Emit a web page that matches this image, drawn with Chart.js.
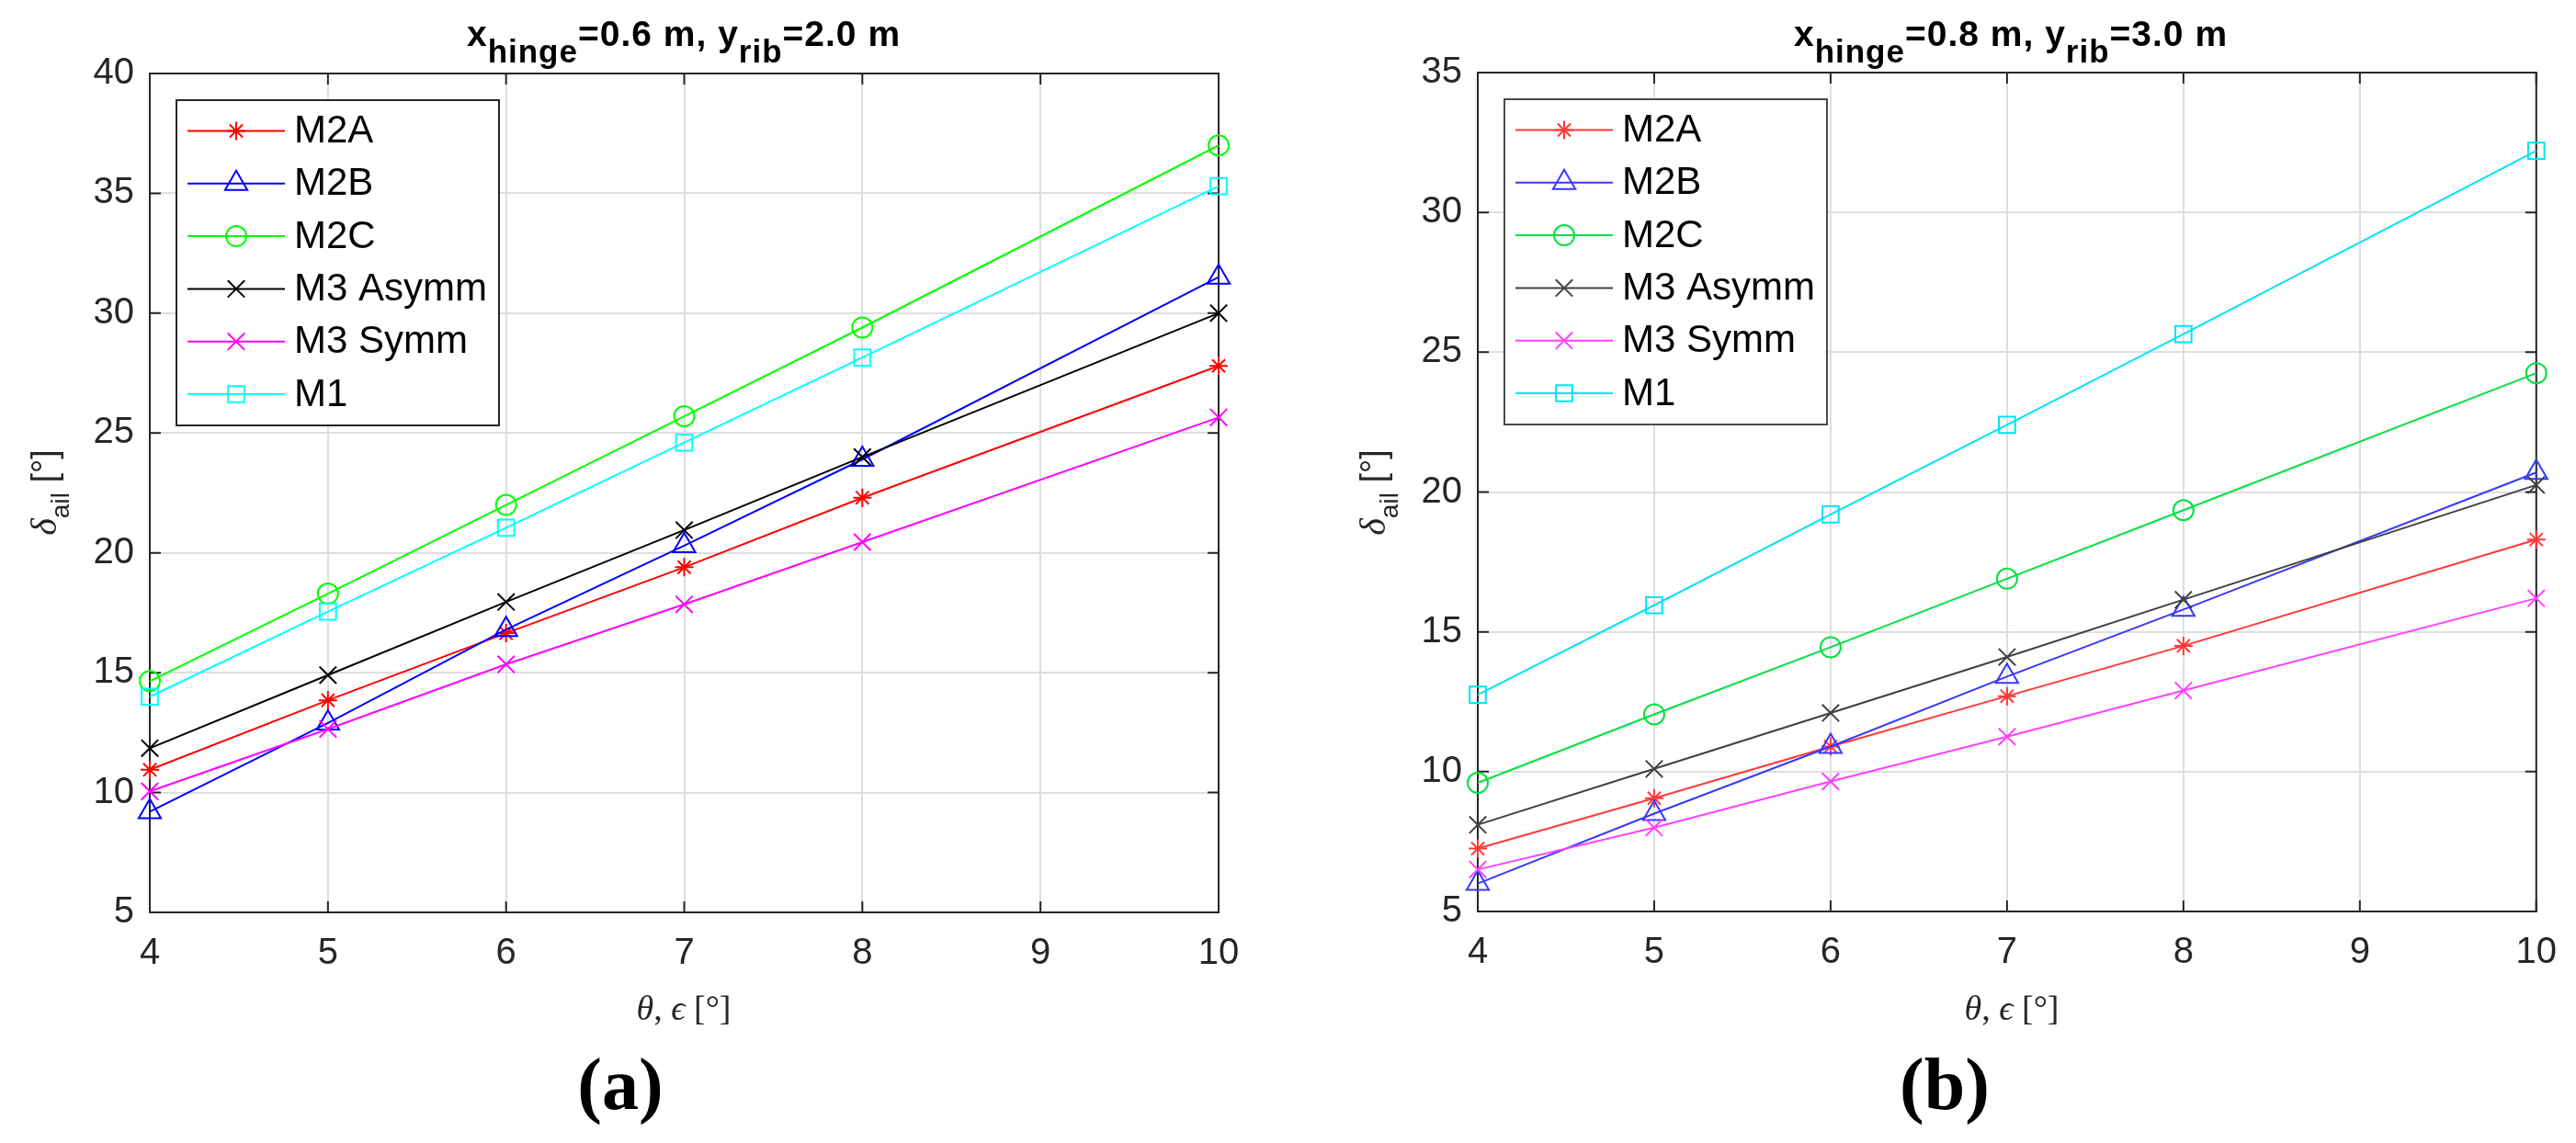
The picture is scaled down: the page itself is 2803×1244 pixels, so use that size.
<!DOCTYPE html>
<html>
<head>
<meta charset="utf-8">
<script src="https://cdn.jsdelivr.net/npm/chart.js@4.4.1/dist/chart.umd.min.js"></script>
<style>
html, body { margin: 0; padding: 0; background: #ffffff; }
#wrap { position: relative; width: 2803px; height: 1244px; overflow: hidden; background: #ffffff; }
canvas { position: absolute; top: 0; }
#chartA { left: 0; width: 1400px; height: 1244px; }
#chartB { left: 1400px; width: 1403px; height: 1244px; }
#labels { position: absolute; left: 0; top: 0; pointer-events: none; }
</style>
</head>
<body>
<div id="wrap">
  <canvas id="chartA" width="1400" height="1244"></canvas>
  <canvas id="chartB" width="1403" height="1244"></canvas>
  <svg id="labels" width="2803" height="1244" xmlns="http://www.w3.org/2000/svg">
    <!-- panel (a) -->
    <text x="744" y="50" text-anchor="middle" font-family="Liberation Sans, Arial, sans-serif" font-weight="bold" font-size="39" letter-spacing="1" fill="#000">x<tspan font-size="35" dy="18">hinge</tspan><tspan dy="-18">=0.6 m, y</tspan><tspan font-size="35" dy="18">rib</tspan><tspan dy="-18">=2.0 m</tspan></text>
    <text x="744" y="1110" text-anchor="middle" font-family="Liberation Serif, DejaVu Serif, serif" font-size="38" fill="#262626"><tspan font-style="italic">θ</tspan>, <tspan font-style="italic">ϵ</tspan> [°]</text>
    <text transform="translate(61,536) rotate(-90)" text-anchor="middle" fill="#262626"><tspan font-family="Liberation Serif, DejaVu Serif, serif" font-style="italic" font-size="40">δ</tspan><tspan font-family="Liberation Sans, Arial, sans-serif" font-size="28" dy="14">ail</tspan><tspan font-family="Liberation Sans, Arial, sans-serif" font-size="38" dy="-14"> [°]</tspan></text>
    <text x="675" y="1207" text-anchor="middle" font-family="Liberation Serif, DejaVu Serif, serif" font-weight="bold" font-size="80" fill="#000">(a)</text>
    <!-- panel (b) -->
    <text x="2188" y="50" text-anchor="middle" font-family="Liberation Sans, Arial, sans-serif" font-weight="bold" font-size="39" letter-spacing="1" fill="#000">x<tspan font-size="35" dy="18">hinge</tspan><tspan dy="-18">=0.8 m, y</tspan><tspan font-size="35" dy="18">rib</tspan><tspan dy="-18">=3.0 m</tspan></text>
    <text x="2189" y="1110" text-anchor="middle" font-family="Liberation Serif, DejaVu Serif, serif" font-size="38" fill="#262626"><tspan font-style="italic">θ</tspan>, <tspan font-style="italic">ϵ</tspan> [°]</text>
    <text transform="translate(1507,536) rotate(-90)" text-anchor="middle" fill="#262626"><tspan font-family="Liberation Serif, DejaVu Serif, serif" font-style="italic" font-size="40">δ</tspan><tspan font-family="Liberation Sans, Arial, sans-serif" font-size="28" dy="14">ail</tspan><tspan font-family="Liberation Sans, Arial, sans-serif" font-size="38" dy="-14"> [°]</tspan></text>
    <text x="2116" y="1207" text-anchor="middle" font-family="Liberation Serif, DejaVu Serif, serif" font-weight="bold" font-size="80" fill="#000">(b)</text>
  </svg>
</div>
<script>
// ---------------- DATA ----------------
const thetaEps = [4, 5, 6, 7, 8, 10];
const seriesLabels = ['M2A', 'M2B', 'M2C', 'M3 Asymm', 'M3 Symm', 'M1'];
const xTickValues = [4, 5, 6, 7, 8, 9, 10];
const yTickValuesA = [5, 10, 15, 20, 25, 30, 35, 40];
const yTickValuesB = [5, 10, 15, 20, 25, 30, 35];

// panel (a): x_hinge = 0.6 m, y_rib = 2.0 m
const aM2A     = [10.95, 13.85, 16.65, 19.4, 22.3, 27.8];
const aM2B     = [9.2, 12.9, 16.8, 20.3, 23.9, 31.5];
const aM2C     = [14.65, 18.3, 22.0, 25.7, 29.4, 37.0];
const aM3Asymm = [11.85, 14.9, 17.95, 20.95, 24.0, 30.0];
const aM3Symm  = [10.05, 12.65, 15.35, 17.85, 20.45, 25.65];
const aM1      = [14.0, 17.55, 21.05, 24.6, 28.15, 35.3];

// panel (b): x_hinge = 0.8 m, y_rib = 3.0 m
const bM2A     = [7.25, 9.05, 10.9, 12.7, 14.5, 18.3];
const bM2B     = [6.0, 8.5, 10.9, 13.4, 15.8, 20.7];
const bM2C     = [9.6, 12.05, 14.45, 16.9, 19.35, 24.25];
const bM3Asymm = [8.1, 10.1, 12.1, 14.1, 16.15, 20.25];
const bM3Symm  = [6.5, 8.0, 9.65, 11.25, 12.9, 16.2];
const bM1      = [12.75, 15.95, 19.2, 22.4, 25.65, 32.2];

// ---------------- STYLE ----------------
const markerStyles = ['star', 'triangle', 'circle', 'crossRot', 'crossRot', 'rect'];
const markerRadius = [10, 14, 11, 13, 13, 12.5];
const colorsA = ['#ff0000', '#0000ff', '#00ff00', '#000000', '#ff00ff', '#00ffff'];
const colorsB = ['#ff3838', '#3838ff', '#00e040', '#404040', '#ff40ff', '#00e4f4'];
const TEXT = '#262626';
const FONT = '"Liberation Sans", Arial, Helvetica, sans-serif';

function drawMarker(ctx, style, r, x, y) {
  const h = r * Math.SQRT1_2;
  ctx.beginPath();
  switch (style) {
    case 'circle': ctx.arc(x, y, r, 0, Math.PI * 2); break;
    case 'triangle':
      ctx.moveTo(x, y - r);
      ctx.lineTo(x + r * Math.sin(2 * Math.PI / 3), y - r * Math.cos(2 * Math.PI / 3));
      ctx.lineTo(x + r * Math.sin(4 * Math.PI / 3), y - r * Math.cos(4 * Math.PI / 3));
      ctx.closePath(); break;
    case 'rect': ctx.rect(x - h, y - h, 2 * h, 2 * h); break;
    case 'crossRot':
      ctx.moveTo(x - h, y - h); ctx.lineTo(x + h, y + h);
      ctx.moveTo(x - h, y + h); ctx.lineTo(x + h, y - h); break;
    case 'star':
      ctx.moveTo(x, y - r); ctx.lineTo(x, y + r);
      ctx.moveTo(x - r, y); ctx.lineTo(x + r, y);
      ctx.moveTo(x - h, y - h); ctx.lineTo(x + h, y + h);
      ctx.moveTo(x - h, y + h); ctx.lineTo(x + h, y - h); break;
  }
  ctx.stroke();
}

const framePlugin = {
  id: 'frame',
  beforeDatasetsDraw(chart, args, opts) {
    const { ctx, chartArea: a, scales } = chart;
    const xs = scales.x, ys = scales.y;
    ctx.save();
    ctx.strokeStyle = opts.color;
    ctx.lineWidth = 2;
    ctx.strokeRect(a.left, a.top, a.right - a.left, a.bottom - a.top);
    const tl = 12;
    ctx.beginPath();
    xs.ticks.forEach(t => {
      const p = xs.getPixelForValue(t.value);
      ctx.moveTo(p, a.bottom); ctx.lineTo(p, a.bottom - tl);
      ctx.moveTo(p, a.top); ctx.lineTo(p, a.top + tl);
    });
    ys.ticks.forEach(t => {
      const p = ys.getPixelForValue(t.value);
      ctx.moveTo(a.left, p); ctx.lineTo(a.left + tl, p);
      ctx.moveTo(a.right, p); ctx.lineTo(a.right - tl, p);
    });
    ctx.stroke();
    ctx.restore();
  }
};

const boxLegendPlugin = {
  id: 'boxLegend',
  afterDatasetsDraw(chart, args, o) {
    const { ctx, chartArea: a } = chart;
    const L = a.left + o.offsetX, T = a.top + o.offsetY;
    ctx.save();
    ctx.fillStyle = '#ffffff';
    ctx.fillRect(L, T, o.width, o.height);
    ctx.strokeStyle = o.borderColor;
    ctx.lineWidth = 2;
    ctx.strokeRect(L, T, o.width, o.height);
    chart.data.datasets.forEach((ds, i) => {
      const y = T + o.firstRow + i * o.rowGap;
      ctx.strokeStyle = ds.borderColor;
      ctx.lineWidth = ds.borderWidth;
      ctx.beginPath();
      ctx.moveTo(L + o.lineX0, y); ctx.lineTo(L + o.lineX1, y);
      ctx.stroke();
      drawMarker(ctx, ds.pointStyle, ds.pointRadius, L + o.markX, y);
      ctx.fillStyle = '#000000';
      ctx.font = o.fontSize + 'px ' + FONT;
      ctx.textAlign = 'left';
      ctx.textBaseline = 'middle';
      ctx.fillText(ds.label, L + o.textX, y + 1);
    });
    ctx.restore();
  }
};

function buildDatasets(seriesList, colors, lw) {
  return seriesList.map((vals, i) => ({
    label: seriesLabels[i],
    data: thetaEps.map((x, j) => ({ x: x, y: vals[j] })),
    borderColor: colors[i],
    backgroundColor: 'rgba(0,0,0,0)',
    borderWidth: lw,
    pointStyle: markerStyles[i],
    pointRadius: markerRadius[i],
    pointHoverRadius: markerRadius[i],
    pointBorderWidth: lw,
    pointBorderColor: colors[i],
    pointBackgroundColor: 'rgba(0,0,0,0)',
    fill: false,
    tension: 0,
    clip: false,
    order: seriesList.length - i
  }));
}

function makeChart(id, datasets, yTicks, yMax, geo, legendBorder) {
  return new Chart(document.getElementById(id), {
    type: 'line',
    data: { datasets: datasets },
    options: {
      responsive: false,
      animation: false,
      events: [],
      layout: { padding: { left: 0, right: geo.padRight, top: geo.padTop, bottom: geo.padBottom } },
      scales: {
        x: {
          type: 'linear', min: 4, max: 10,
          afterBuildTicks: s => { s.ticks = xTickValues.map(v => ({ value: v })); },
          afterFit: s => { s.height = geo.xAxisHeight; },
          grid: { color: '#dedede', lineWidth: 2, drawTicks: false },
          border: { display: false },
          ticks: { color: TEXT, padding: 21, font: { family: FONT, size: 40, lineHeight: 1.2 } }
        },
        y: {
          type: 'linear', min: 5, max: yMax,
          afterBuildTicks: s => { s.ticks = yTicks.map(v => ({ value: v })); },
          afterFit: s => { s.width = geo.yAxisWidth; },
          grid: { color: '#dedede', lineWidth: 2, drawTicks: false },
          border: { display: false },
          ticks: { color: TEXT, padding: 17, font: { family: FONT, size: 40, lineHeight: 1.2 } }
        }
      },
      plugins: {
        legend: { display: false },
        tooltip: { enabled: false },
        title: { display: false },
        frame: { color: TEXT },
        boxLegend: {
          offsetX: 29, offsetY: 29, width: 351, height: 354,
          firstRow: 33.5, rowGap: 57.3,
          lineX0: 12, lineX1: 118, markX: 65, textX: 128,
          fontSize: 42, borderColor: legendBorder
        }
      }
    },
    plugins: [framePlugin, boxLegendPlugin]
  });
}

makeChart('chartA',
  buildDatasets([aM2A, aM2B, aM2C, aM3Asymm, aM3Symm, aM1], colorsA, 2),
  yTickValuesA, 40,
  { padRight: 74, padTop: 80, padBottom: 151, xAxisHeight: 100, yAxisWidth: 163 },
  '#262626');

makeChart('chartB',
  buildDatasets([bM2A, bM2B, bM2C, bM3Asymm, bM3Symm, bM1], colorsB, 2),
  yTickValuesB, 35,
  { padRight: 34, padTop: 79, padBottom: 152, xAxisHeight: 100, yAxisWidth: 208 },
  '#4a4a4a');
</script>
</body>
</html>
